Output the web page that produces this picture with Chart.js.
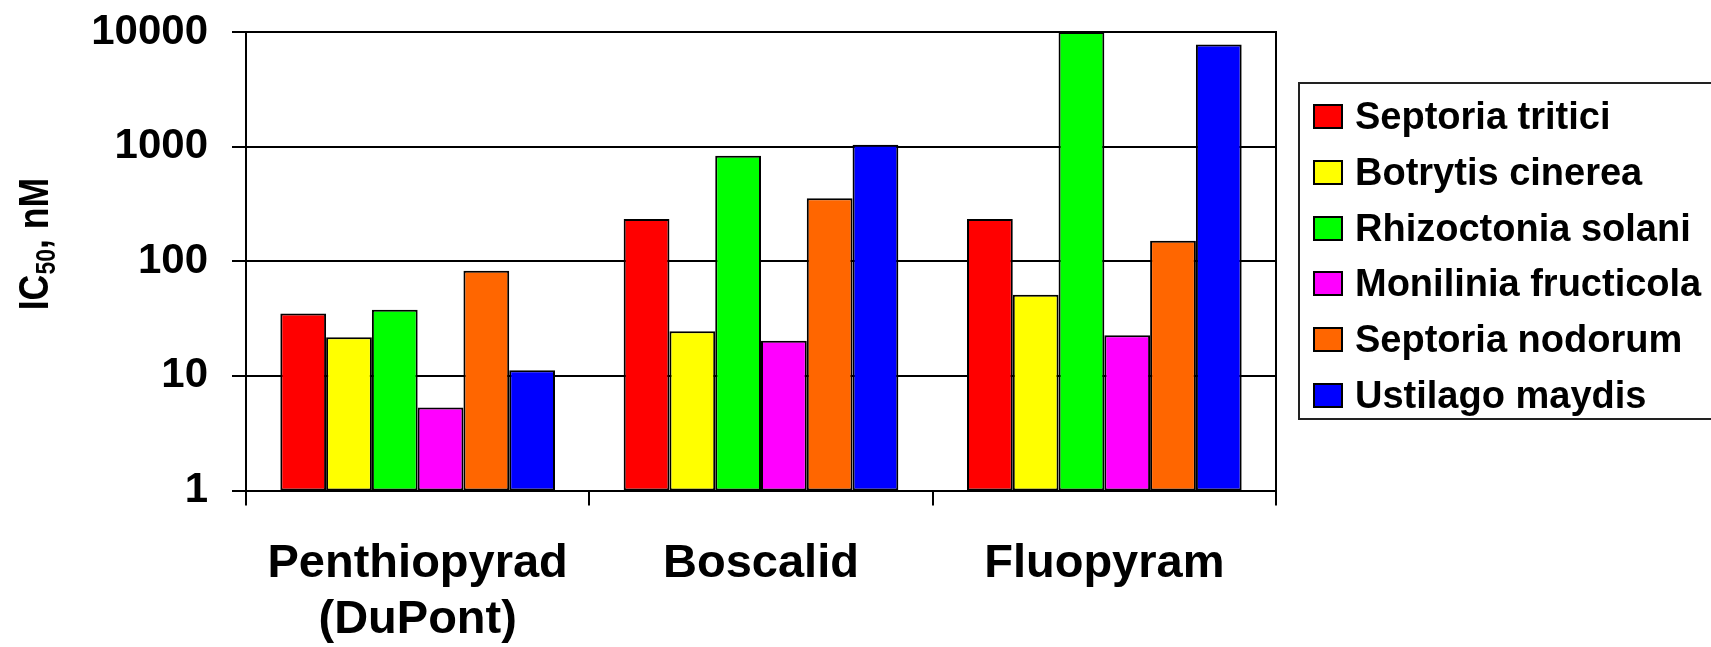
<!DOCTYPE html>
<html>
<head>
<meta charset="utf-8">
<script src="https://cdn.jsdelivr.net/npm/chart.js@4.4.1/dist/chart.umd.min.js"></script>
<style>
    body { margin: 0; background: #fff; }
    #wrap { position: relative; width: 1711px; height: 647px; overflow: hidden; }
    #legend {
        position: absolute; left: 1298px; top: 82px; width: 440px; height: 329px;
        border: 2px solid #222; padding-top: 5px;
        font: bold 38px "Liberation Sans", Arial, sans-serif; color: #000;
    }
    #legend .item { display: flex; align-items: center; height: 55.7px; }
    #legend .box { width: 26px; height: 21px; border: 2px solid #000; margin-left: 13px; margin-right: 12px; }
</style>
</head>
<body>
<div id="wrap">
    <canvas id="chart" width="1711" height="647"></canvas>
    <div id="legend"></div>
</div>
<script>
const categories = [['Penthiopyrad', '(DuPont)'], 'Boscalid', 'Fluopyram'];
const seriesNames = ['Septoria tritici', 'Botrytis cinerea', 'Rhizoctonia solani',
    'Monilinia fructicola', 'Septoria nodorum', 'Ustilago maydis'];
const septoriaTritici = [35, 234, 234];
const botrytisCinerea = [21.7, 24.5, 51];
const rhizoctoniaSolani = [37.8, 834, 10000];
const moniliniaFructicola = [5.3, 20.3, 22.6];
const septoriaNodorum = [82.7, 354, 151];
const ustilagoMaydis = [11.2, 1039, 7760];
const yTicks = [1, 10, 100, 1000, 10000];
const colors = ['#ff0000', '#ffff00', '#00ff00', '#ff00ff', '#ff6600', '#0000ff'];

const seriesValues = [septoriaTritici, botrytisCinerea, rhizoctoniaSolani,
    moniliniaFructicola, septoriaNodorum, ustilagoMaydis];

const FONT = '"Liberation Sans", Arial, sans-serif';

// y axis title with subscript, drawn rotated
const axisTitle = {
    id: 'axisTitle',
    afterDraw(chart) {
        const ctx = chart.ctx;
        const parts = [
            { t: 'IC', size: 42, dy: 0 },
            { t: '50', size: 27, dy: 7 },
            { t: ', nM', size: 42, dy: 0 }
        ];
        ctx.save();
        ctx.translate(48, 244);
        ctx.rotate(-Math.PI / 2);
        ctx.scale(0.85, 1);
        ctx.fillStyle = '#000';
        ctx.textBaseline = 'alphabetic';
        let total = 0;
        parts.forEach(p => {
            ctx.font = 'bold ' + p.size + 'px ' + FONT;
            p.w = ctx.measureText(p.t).width;
            total += p.w;
        });
        let x = -total / 2;
        parts.forEach(p => {
            ctx.font = 'bold ' + p.size + 'px ' + FONT;
            ctx.fillText(p.t, x, p.dy);
            x += p.w;
        });
        ctx.restore();
    }
};

const chart = new Chart(document.getElementById('chart'), {
    type: 'bar',
    data: {
        labels: categories,
        datasets: seriesNames.map((name, i) => ({
            label: name,
            data: seriesValues[i],
            backgroundColor: colors[i],
            borderColor: '#000',
            borderWidth: 2,
            borderSkipped: false,
            barPercentage: 1,
            categoryPercentage: 0.8
        }))
    },
    options: {
        responsive: false,
        animation: false,
        devicePixelRatio: 1,
        layout: { padding: { top: 32, right: 435, bottom: 0, left: 0 } },
        plugins: {
            legend: { display: false },
            tooltip: { enabled: false }
        },
        scales: {
            x: {
                grid: { offset: true, drawOnChartArea: false, color: '#000', lineWidth: 2, tickLength: 15 },
                border: { color: '#000', width: 2 },
                ticks: {
                    color: '#000', padding: 31, maxRotation: 0,
                    font: { family: FONT, size: 47, weight: 'bold', lineHeight: 1.18 }
                },
                afterFit(axis) {
                    axis.height = 156.5;
                    axis.paddingLeft = 0;
                    axis.paddingRight = 0;
                }
            },
            y: {
                type: 'logarithmic',
                min: 1,
                max: 10000,
                grid: { color: '#000', lineWidth: 2, tickLength: 14 },
                border: { color: '#000', width: 2 },
                ticks: {
                    color: '#000', padding: 24,
                    font: { family: FONT, size: 42, weight: 'bold' },
                    callback: (v) => String(v)
                },
                afterBuildTicks(axis) { axis.ticks = yTicks.map(v => ({ value: v })); },
                afterFit(axis) {
                    axis.width = 246;
                    axis.paddingTop = 0;
                    axis.paddingBottom = 0;
                }
            },
            yRight: {
                position: 'right',
                type: 'linear',
                grid: { drawOnChartArea: false, drawTicks: false },
                border: { color: '#000', width: 2 },
                ticks: { display: false },
                afterFit(axis) { axis.width = 0; }
            }
        }
    },
    plugins: [axisTitle]
});

const legendEl = document.getElementById('legend');
legendEl.innerHTML = seriesNames.map((name, i) =>
    `<div class="item"><span class="box" style="background:${colors[i]}"></span><span>${name}</span></div>`
).join('');
</script>
</body>
</html>
